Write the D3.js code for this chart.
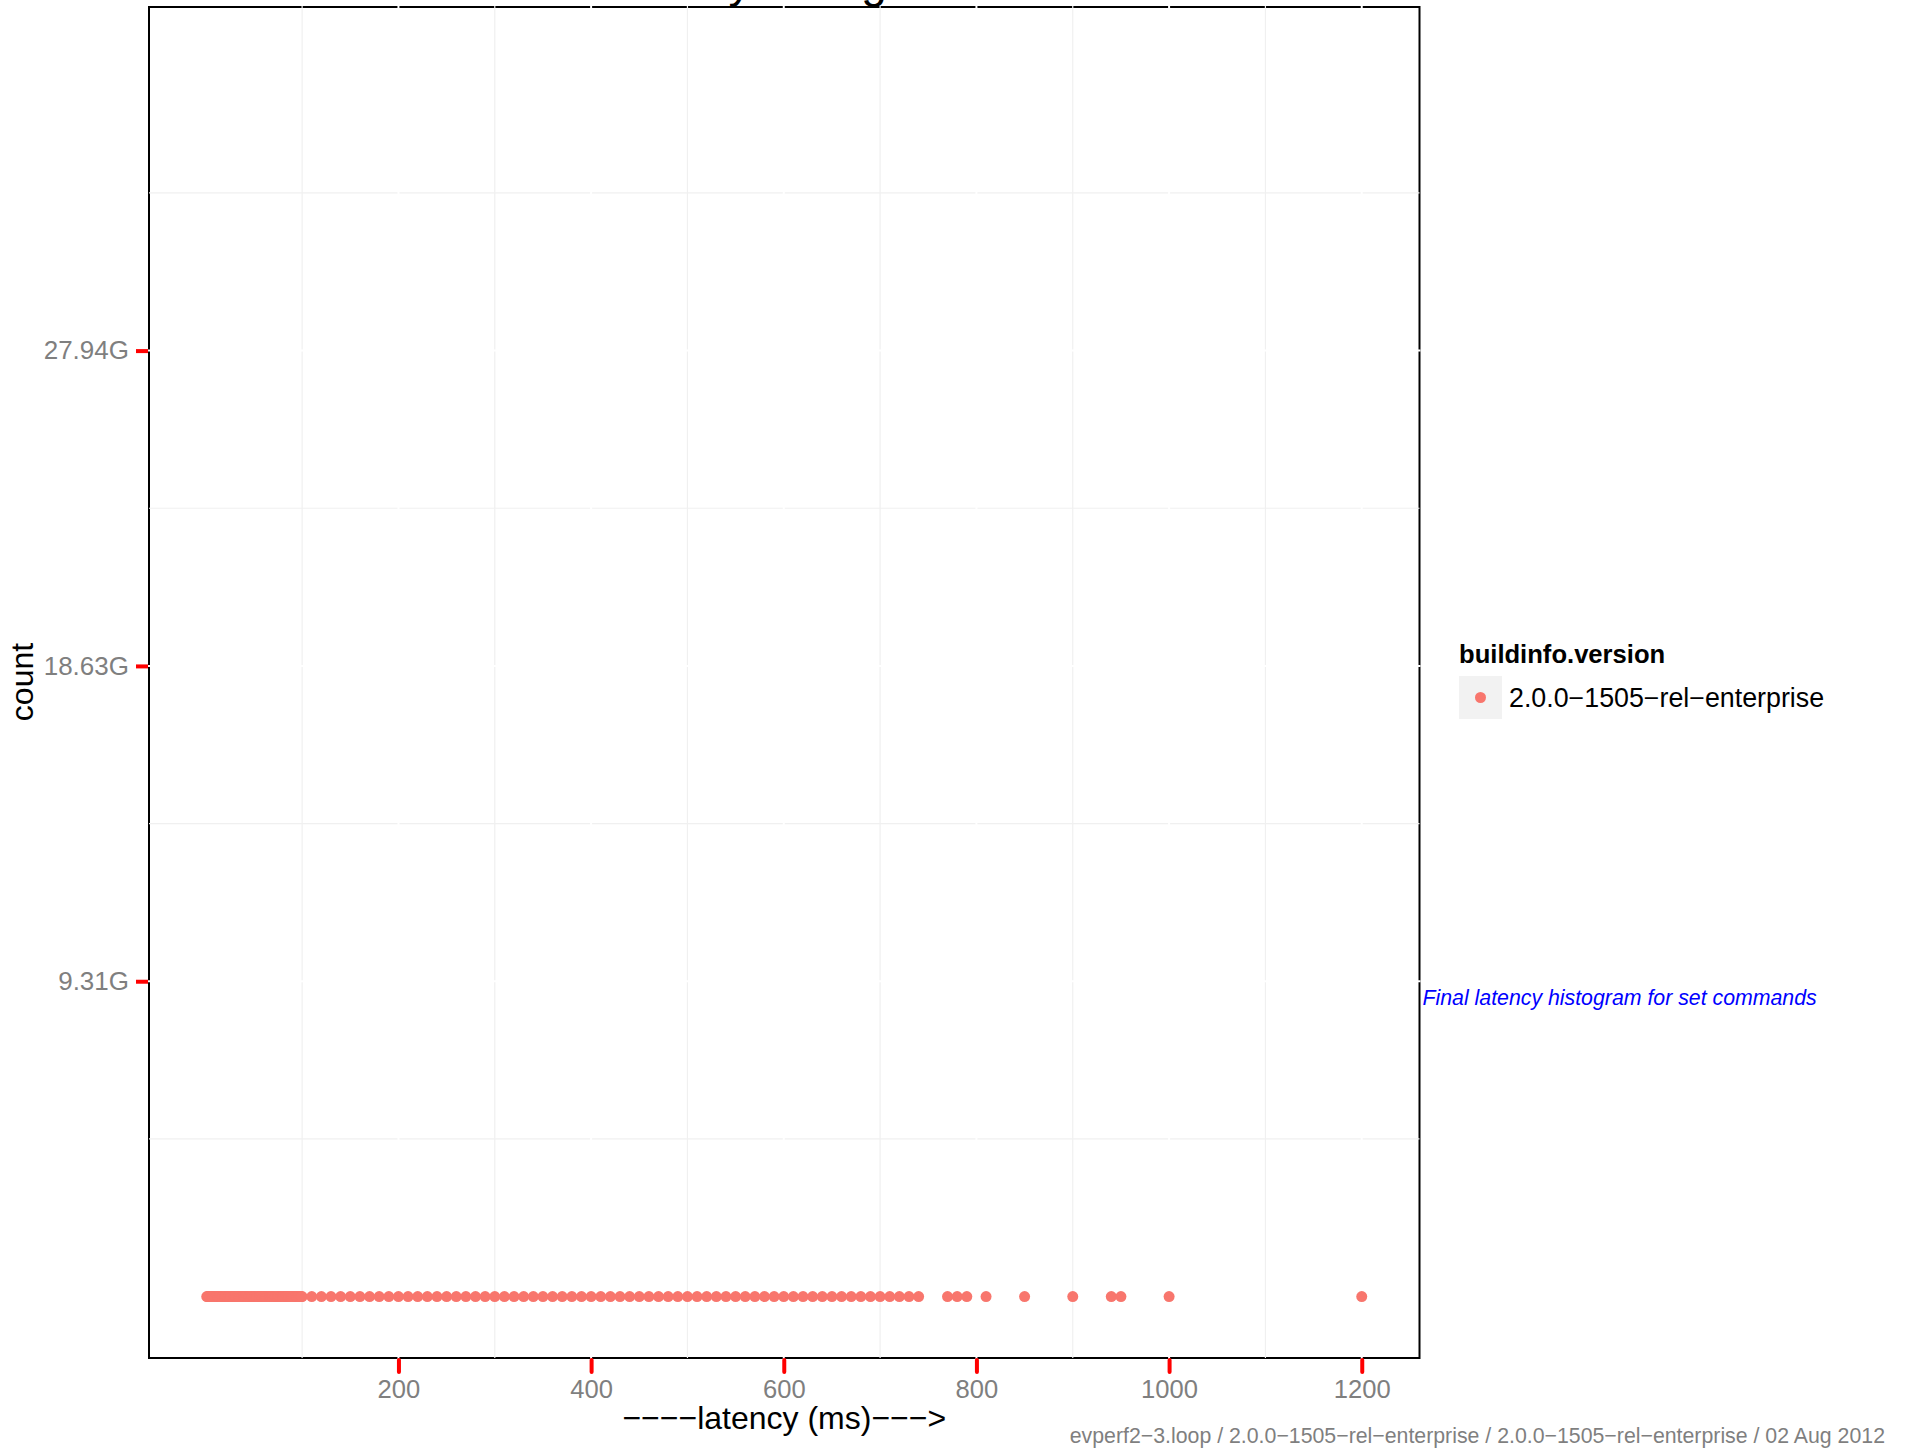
<!DOCTYPE html>
<html>
<head>
<meta charset="utf-8">
<script src="https://cdn.jsdelivr.net/npm/d3@7"></script>
<style>
  html, body { margin: 0; padding: 0; background: #fff; }
  svg { display: block; font-family: "Liberation Sans", Arial, sans-serif; }
</style>
</head>
<body>
<div id="wrapper"></div>
<script>
// latency buckets (ms) that have a point
const latencyFine = [1,2,3,4,5,6,7,8,9,10,11,12,13,14,15,16,17,18,19,20,
  21,22,23,24,25,26,27,28,29,30,31,32,33,34,35,36,37,38,39,40,
  41,42,43,44,45,46,47,48,49,50,51,52,53,54,55,56,57,58,59,60,
  61,62,63,64,65,66,67,68,69,70,71,72,73,74,75,76,77,78,79,80,
  81,82,83,84,85,86,87,88,89,90,91,92,93,94,95,96,97,98,99,100]
const latencyCoarse = [110,120,130,140,150,160,170,180,190,200,
  210,220,230,240,250,260,270,280,290,300,310,320,330,340,350,360,370,380,390,400,
  410,420,430,440,450,460,470,480,490,500,510,520,530,540,550,560,570,580,590,600,
  610,620,630,640,650,660,670,680,690,700,710,720,730,740]
const latencyTail = [770,780,790,810,850,900,940,950,1000,1200]
// every count is tiny next to the axis range -> sits on 0
const pointCount = 0

const xTicks = [200, 400, 600, 800, 1000, 1200]
const xMinor = [100, 300, 500, 700, 900, 1100]
const yTicks = [10e9, 20e9, 30e9]
const yTickLabels = ["9.31G", "18.63G", "27.94G"]
const yMinor = [5e9, 15e9, 25e9, 35e9]
const xRange = [1, 1200]
const yRange = [0, 38.98e9]

const seriesName = "2.0.0\u22121505\u2212rel\u2212enterprise"
const pointColor = "#F8766D"

async function drawChart() {
  const dataset = [...latencyFine, ...latencyCoarse, ...latencyTail]
    .map(v => ({ latency: v, count: pointCount }))
  const xAccessor = d => d.latency
  const yAccessor = d => d.count

  // 1. dimensions
  let dimensions = {
    width: 1908,
    height: 1449,
    margin: { top: 6, right: 488.5, bottom: 91, left: 149 },
  }
  dimensions.boundedWidth = dimensions.width - dimensions.margin.left - dimensions.margin.right
  dimensions.boundedHeight = dimensions.height - dimensions.margin.top - dimensions.margin.bottom

  const wrapper = d3.select("#wrapper")
    .append("svg")
      .attr("width", dimensions.width)
      .attr("height", dimensions.height)

  const bounds = wrapper.append("g")
      .attr("transform", `translate(${dimensions.margin.left},${dimensions.margin.top})`)

  // 2. scales (ggplot-style 5% expansion)
  const expand = (r) => { const s = (r[1] - r[0]) * 0.05; return [r[0] - s, r[1] + s] }
  const xScale = d3.scaleLinear()
    .domain(expand(xRange))
    .range([0, dimensions.boundedWidth])
  const yScale = d3.scaleLinear()
    .domain(expand(yRange))
    .range([dimensions.boundedHeight, 0])

  // title (cut off at top of the image)
  wrapper.append("text")
      .attr("x", dimensions.margin.left + dimensions.boundedWidth / 2 - 6)
      .attr("y", -3)
      .attr("text-anchor", "middle")
      .style("font-size", "46px")
      .text("Latency histogram")

  // 3. panel: border first, grid on top of it
  bounds.append("rect")
      .attr("x", 0)
      .attr("y", 1)
      .attr("width", dimensions.boundedWidth)
      .attr("height", dimensions.boundedHeight - 1)
      .attr("fill", "white")
      .attr("stroke", "black")
      .attr("stroke-width", 2)

  bounds.selectAll(".x-minor")
    .data(xMinor)
    .join("line")
      .attr("x1", d => xScale(d))
      .attr("x2", d => xScale(d))
      .attr("y1", 0)
      .attr("y2", dimensions.boundedHeight)
      .attr("stroke", "#F0F0F0")
      .attr("stroke-width", 1.2)
  bounds.selectAll(".y-minor")
    .data(yMinor)
    .join("line")
      .attr("x1", 0)
      .attr("x2", dimensions.boundedWidth)
      .attr("y1", d => yScale(d))
      .attr("y2", d => yScale(d))
      .attr("stroke", "#F0F0F0")
      .attr("stroke-width", 1.2)
  bounds.selectAll(".x-major")
    .data(xTicks)
    .join("line")
      .attr("x1", d => xScale(d))
      .attr("x2", d => xScale(d))
      .attr("y1", -1)
      .attr("y2", dimensions.boundedHeight + 1)
      .attr("stroke", "white")
      .attr("stroke-width", 2)
  bounds.selectAll(".y-major")
    .data(yTicks)
    .join("line")
      .attr("x1", -1)
      .attr("x2", dimensions.boundedWidth + 1)
      .attr("y1", d => yScale(d))
      .attr("y2", d => yScale(d))
      .attr("stroke", "white")
      .attr("stroke-width", 2)

  // 4. points
  bounds.append("g")
    .selectAll("circle")
    .data(dataset)
    .join("circle")
      .attr("cx", d => xScale(xAccessor(d)))
      .attr("cy", d => yScale(yAccessor(d)))
      .attr("r", 5.5)
      .attr("fill", pointColor)

  // 5. axes
  const xAxisGenerator = d3.axisBottom(xScale)
    .tickValues(xTicks)
    .tickFormat(d => String(d))
    .tickSize(14)
    .tickPadding(8)
  const xAxis = bounds.append("g")
      .attr("transform", `translate(0,${dimensions.boundedHeight})`)
      .call(xAxisGenerator)
  xAxis.select(".domain").remove()
  xAxis.selectAll(".tick line")
      .attr("stroke", "red")
      .attr("stroke-width", 4)
      .attr("stroke-linecap", "round")
      .attr("y1", 2)
  xAxis.selectAll(".tick text")
      .attr("fill", "#7F7F7F")
      .style("font-size", "25.6px")
      .style("font-family", "\"Liberation Sans\", Arial, sans-serif")

  const yAxisGenerator = d3.axisLeft(yScale)
    .tickValues(yTicks)
    .tickFormat((d, i) => yTickLabels[i])
    .tickSize(14)
    .tickPadding(6)
  const yAxis = bounds.append("g")
      .call(yAxisGenerator)
  yAxis.select(".domain").remove()
  yAxis.selectAll(".tick line")
      .attr("stroke", "red")
      .attr("stroke-width", 4)
      .attr("x2", -13)
      .attr("x1", -1)
  yAxis.selectAll(".tick text")
      .attr("fill", "#7F7F7F")
      .style("font-size", "26px")
      .style("font-family", "\"Liberation Sans\", Arial, sans-serif")

  // axis titles
  wrapper.append("text")
      .attr("x", dimensions.margin.left + dimensions.boundedWidth / 2)
      .attr("y", 1429)
      .attr("text-anchor", "middle")
      .style("font-size", "32px")
      .text("\u2212\u2212\u2212\u2212latency (ms)\u2212\u2212\u2212>")

  wrapper.append("text")
      .attr("transform", `translate(33,${dimensions.margin.top + dimensions.boundedHeight / 2}) rotate(-90)`)
      .attr("text-anchor", "middle")
      .style("font-size", "32px")
      .text("count")

  // 6. legend
  const legend = wrapper.append("g")
      .attr("transform", "translate(1459,0)")
  legend.append("text")
      .attr("x", 0)
      .attr("y", 663)
      .style("font-size", "25.6px")
      .style("font-weight", "bold")
      .text("buildinfo.version")
  legend.append("rect")
      .attr("x", 0)
      .attr("y", 676)
      .attr("width", 43)
      .attr("height", 43)
      .attr("fill", "#F2F2F2")
  legend.append("circle")
      .attr("cx", 21.5)
      .attr("cy", 697.5)
      .attr("r", 5.5)
      .attr("fill", pointColor)
  legend.append("text")
      .attr("x", 50)
      .attr("y", 707)
      .style("font-size", "26.8px")
      .text(seriesName)

  // caption + footer
  wrapper.append("text")
      .attr("x", 1422.5)
      .attr("y", 1005)
      .attr("fill", "blue")
      .style("font-size", "21.3px")
      .style("font-style", "italic")
      .text("Final latency histogram for set commands")

  wrapper.append("text")
      .attr("x", 1885)
      .attr("y", 1443)
      .attr("text-anchor", "end")
      .attr("fill", "#7F7F7F")
      .style("font-size", "21.3px")
      .text(`evperf2\u22123.loop / ${seriesName} / ${seriesName} / 02 Aug 2012`)
}
drawChart()
</script>
</body>
</html>
